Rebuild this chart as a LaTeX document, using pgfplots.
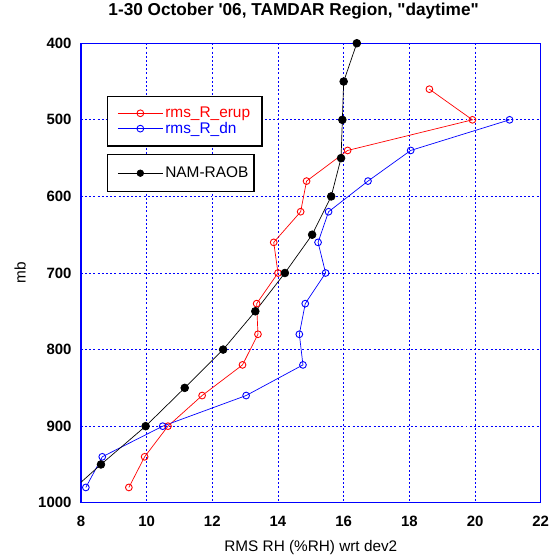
\documentclass[border=0pt]{standalone}
\usepackage{fontspec}
\setmainfont{Liberation Sans}
\usepackage{pgfplots}
\pgfplotsset{compat=1.18}

% profiles: x = RMS RH, y = pressure (mb)
\pgfplotstableread{
x y
18.61 460
19.92 500
16.12 540
14.87 580
14.69 620
13.87 660
14.00 700
13.35 740
13.39 780
12.92 820
11.69 860
10.65 900
9.94 940
9.46 980
}\erup
\pgfplotstableread{
x y
21.05 500
18.04 540
16.74 580
15.54 620
15.22 660
15.45 700
14.83 740
14.65 780
14.76 820
13.03 860
10.49 900
8.65 940
8.15 980
}\dn
\pgfplotstableread{
x y
16.40 400
16.00 450
15.96 500
15.92 550
15.62 600
15.04 650
14.21 700
13.31 750
12.33 800
11.16 850
9.97 900
8.61 950
7.30 1000
}\nam

\pgfplotsset{
  legimg/.style={legend image code/.code={%
    \draw[mark repeat=2,mark phase=2,##1] plot coordinates {(0pt,0pt) (22.7pt,0pt) (45.4pt,0pt)};}},
  base/.style={
    scale only axis, width=462pt, height=461.7pt,
    xmin=8, xmax=22, ymin=400, ymax=1000, y dir=reverse,
  },
  legbox/.style={anchor=north west, draw=black, line width=1.3pt,
    inner xsep=10pt, row sep=-1pt,
    font=\fontsize{15.5}{17}\selectfont},
}

\begin{document}
\begin{tikzpicture}
\begin{axis}[base, name=ax,
  xtick={8,10,...,22}, ytick={400,500,...,1000},
  axis line style={blue, line width=1.3pt},
  tick style={blue}, major tick length=0pt,
  grid=major,
  grid style={blue, line width=0.9pt, dash pattern=on 2pt off 2.2pt},
  ticklabel style={font=\fontsize{15}{17}\bfseries\selectfont},
  /pgf/number format/assume math mode=true,
  /pgf/number format/1000 sep={},
  xticklabel style={yshift=-10pt},
  yticklabel style={xshift=-6pt},
  title={1-30 October \textquotesingle 06, TAMDAR Region, \textquotedbl daytime\textquotedbl},
  title style={font=\fontsize{17.3}{20}\bfseries\selectfont, at={(rel axis cs:0.4626,1)}, anchor=center, yshift=26pt},
  xlabel={RMS RH (\%RH) wrt dev2},
  xlabel style={font=\fontsize{15.4}{17}\selectfont, at={(rel axis cs:0.5,0)}, anchor=center, yshift=-45pt},
  ylabel={mb},
  ylabel style={font=\fontsize{15.4}{17}\selectfont, at={(rel axis cs:0,0.5)}, anchor=center, yshift=61pt},
  legend cell align=left,
  legend style={legbox, inner ysep=9pt, at={(0.0563,0.886)}},
  legimg,
]
\addplot[red, line width=0.7pt, mark=o, mark size=3.4pt, mark options={line width=0.9pt}] table {\erup};
\addlegendentry[text=red]{rms\_R\_erup}
\addplot[blue, line width=0.7pt, mark=o, mark size=3.4pt, mark options={line width=0.9pt}] table {\dn};
\addlegendentry[text=blue]{rms\_R\_dn}
\addplot[black, line width=0.7pt, mark=*, mark size=3.9pt, forget plot] table {\nam};
\end{axis}
\begin{axis}[base, hide axis,
  legend style={legbox, inner ysep=10.5pt, at={(0.0563,0.759)}},
  legimg,
]
\addlegendimage{black, line width=0.7pt, mark=*, mark size=3.3pt}
\addlegendentry{\makebox[77pt][l]{NAM-RAOB}}
\end{axis}
\path ([xshift=-81.3pt,yshift=-54pt]ax.south west) rectangle ([xshift=12pt,yshift=42.3pt]ax.north east);
\end{tikzpicture}
\end{document}
